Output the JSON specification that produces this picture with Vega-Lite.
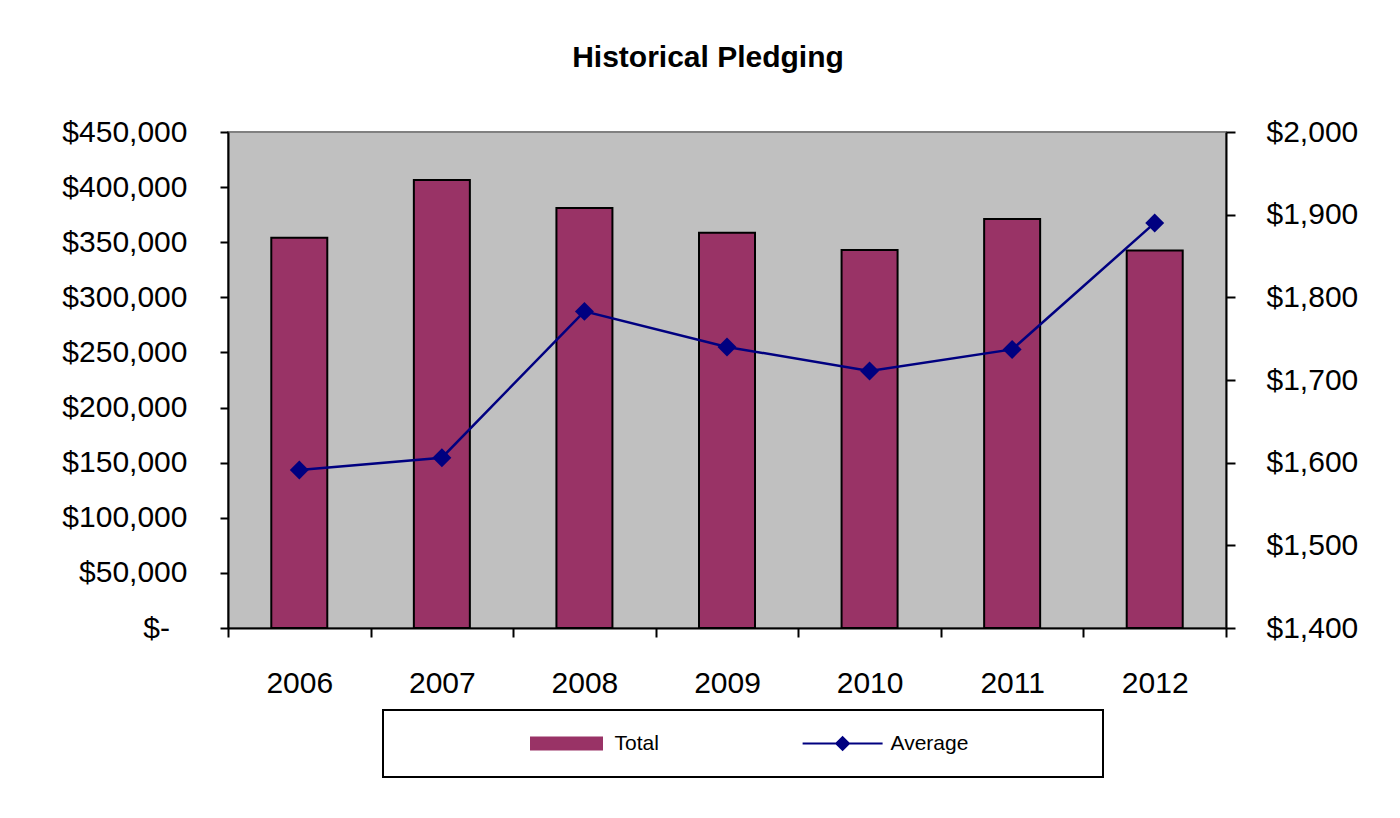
{
  "$schema": "https://vega.github.io/schema/vega-lite/v6.json",
  "autosize": "none",
  "width": 998,
  "height": 496,
  "padding": {"left": 228, "top": 132, "right": 174, "bottom": 190},
  "background": "white",
  "title": {"text": "Historical Pledging", "font": "Liberation Sans", "fontSize": 30, "fontWeight": "bold", "color": "black", "anchor": "middle", "offset": 44, "dx": -19},
  "data": {"values": [
    {"year": "2006", "total": 354000, "average": 1591},
    {"year": "2007", "total": 406500, "average": 1606},
    {"year": "2008", "total": 381000, "average": 1783},
    {"year": "2009", "total": 358500, "average": 1740},
    {"year": "2010", "total": 343000, "average": 1711},
    {"year": "2011", "total": 371000, "average": 1737},
    {"year": "2012", "total": 342500, "average": 1890}
  ]},
  "encoding": {
    "x": {"field": "year", "type": "nominal", "scale": {"paddingInner": 0, "paddingOuter": 0},
      "axis": {"title": null, "labelAngle": 0, "tickBand": "extent", "tickSize": 9, "labelPadding": 31}}
  },
  "layer": [
    {
      "mark": {"type": "bar", "width": 56, "stroke": "black", "strokeWidth": 2},
      "encoding": {
        "y": {"field": "total", "type": "quantitative", "scale": {"domain": [0, 450000], "nice": false},
          "axis": {"title": null, "orient": "left", "values": [0, 50000, 100000, 150000, 200000, 250000, 300000, 350000, 400000, 450000], "tickSize": 8, "labelPadding": 33,
            "labelExpr": "datum.value == 0 ? '$-\u2002\u200a\u200b' : '$' + format(datum.value, ',')"}},
        "color": {"datum": "Total", "type": "nominal",
          "scale": {"domain": ["Total", "Average"], "range": ["#993366", "#000080"]},
          "legend": {
            "title": null, "orient": "none", "legendX": 155, "legendY": 578, "direction": "horizontal",
            "padding": 23, "fillColor": "white", "strokeColor": "black",
            "symbolSize": 6400, "clipHeight": 21, "labelOffset": 126.5, "columnPadding": 23,
            "symbolStrokeColor": "black", "symbolStrokeWidth": 2,
            "labelFont": "Liberation Sans", "labelFontSize": 21, "labelColor": "black", "labelLimit": 400,
            "labelExpr": "datum.label == 'Average' ? 'Average\u00a0\u00a0\u00a0\u00a0\u00a0\u00a0\u00a0\u00a0\u00a0\u00a0\u00a0\u00a0\u00a0\u00a0\u00a0\u00a0\u00a0\u00a0\u00a0\u200b' : datum.label",
            "encode": {
              "legend": {"update": {"strokeWidth": {"value": 2}}},
              "symbols": {"update": {
                "shape": {"signal": "datum.value == 'Total' ? 'M2.1,-0.15H3.875V0.15H2.1Z' : 'M1.99,0H3.99M2.99,-0.16L3.15,0L2.99,0.16L2.83,0Z'"},
                "fill": {"signal": "datum.value == 'Total' ? '#993366' : '#000080'"},
                "stroke": {"signal": "datum.value == 'Total' ? '#000000' : '#000080'"},
                "strokeWidth": {"value": 2},
                "opacity": {"value": 1},
                "fillOpacity": {"value": 1},
                "strokeOpacity": {"value": 1}
              }}
            }
          }}
      }
    },
    {
      "layer": [
        {
          "mark": {"type": "line", "strokeWidth": 2.5},
          "encoding": {
            "y": {"field": "average", "type": "quantitative", "scale": {"domain": [1400, 2000], "nice": false},
              "axis": {"title": null, "orient": "right", "values": [1400, 1500, 1600, 1700, 1800, 1900, 2000], "tickSize": 9, "labelPadding": 31,
                "labelExpr": "'$' + format(datum.value, ',')"}},
            "color": {"datum": "Average", "type": "nominal",
              "legend": {
                "title": null, "orient": "none", "legendX": 155, "legendY": 578, "direction": "horizontal",
                "padding": 23, "fillColor": "white", "strokeColor": "black",
                "symbolSize": 6400, "clipHeight": 21, "labelOffset": 126.5, "columnPadding": 23,
                "symbolStrokeColor": "black", "symbolStrokeWidth": 2,
                "labelFont": "Liberation Sans", "labelFontSize": 21, "labelColor": "black", "labelLimit": 400,
                "labelExpr": "datum.label == 'Average' ? 'Average\u00a0\u00a0\u00a0\u00a0\u00a0\u00a0\u00a0\u00a0\u00a0\u00a0\u00a0\u00a0\u00a0\u00a0\u00a0\u00a0\u00a0\u00a0\u00a0\u200b' : datum.label",
                "encode": {
                  "legend": {"update": {"strokeWidth": {"value": 2}}},
                  "symbols": {"update": {
                    "shape": {"signal": "datum.value == 'Total' ? 'M2.1,-0.15H3.875V0.15H2.1Z' : 'M1.99,0H3.99M2.99,-0.16L3.15,0L2.99,0.16L2.83,0Z'"},
                    "fill": {"signal": "datum.value == 'Total' ? '#993366' : '#000080'"},
                    "stroke": {"signal": "datum.value == 'Total' ? '#000000' : '#000080'"},
                    "strokeWidth": {"value": 2},
                    "opacity": {"value": 1},
                    "fillOpacity": {"value": 1},
                    "strokeOpacity": {"value": 1}
                  }}
                }
              }}
          }
        },
        {
          "mark": {"type": "point", "shape": "diamond", "filled": true, "size": 360, "color": "#000080", "opacity": 1},
          "encoding": {
            "y": {"field": "average", "type": "quantitative"}
          }
        }
      ]
    }
  ],
  "resolve": {"scale": {"y": "independent"}},
  "config": {
    "view": {"fill": "#C0C0C0", "stroke": "#808080", "strokeWidth": 2},
    "axis": {"domainColor": "black", "domainWidth": 2, "tickColor": "black", "tickWidth": 2, "labelColor": "black", "labelFont": "Liberation Sans", "labelFontSize": 30, "grid": false}
  }
}
